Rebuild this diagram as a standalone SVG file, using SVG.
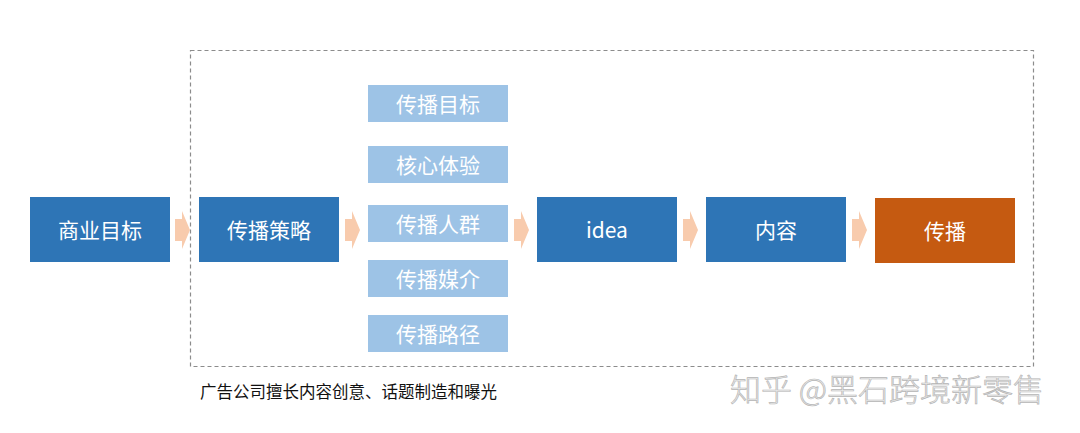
<svg xmlns="http://www.w3.org/2000/svg" width="1080" height="433" viewBox="0 0 1080 433">
<style>
.main{fill:#2e75b6}
.sub{fill:#9dc3e6}
.out{fill:#c55a11}
.t{font-family:"Noto Sans CJK SC","Liberation Sans",sans-serif;fill:#fff;text-anchor:middle;dominant-baseline:central}
.tm{font-size:21px}
.ts{font-size:21px}
.arr{fill:#f8cbad}
</style>
<defs>
<path id="ar" d="M0,-11 H7 V-19 L15,0 L7,19 V11 H0 Z"/>
</defs>
<rect width="1080" height="433" fill="#fff"/>
<rect id="frame" x="190.5" y="50.5" width="843" height="316" fill="none" stroke="#8c8c8c" stroke-width="1.2" stroke-dasharray="4,3"/>
<g id="connectors">
<use href="#ar" class="arr" x="175" y="230"/>
<use href="#ar" class="arr" x="345" y="230"/>
<use href="#ar" class="arr" x="514" y="230"/>
<use href="#ar" class="arr" x="683" y="230"/>
<use href="#ar" class="arr" x="852" y="230"/>
</g>
<g id="n1"><rect class="main" x="30" y="197" width="140" height="65"/><text class="t tm" x="100" y="229">商业目标</text></g>
<g id="n2"><rect class="main" x="199" y="197" width="140" height="65"/><text class="t tm" x="269" y="229">传播策略</text></g>
<g id="s1"><rect class="sub" x="368" y="85" width="140" height="37"/><text class="t ts" x="438" y="103">传播目标</text></g>
<g id="s2"><rect class="sub" x="368" y="146" width="140" height="37"/><text class="t ts" x="438" y="164">核心体验</text></g>
<g id="s3"><rect class="sub" x="368" y="205" width="140" height="37"/><text class="t ts" x="438" y="223">传播人群</text></g>
<g id="s4"><rect class="sub" x="368" y="260" width="140" height="37"/><text class="t ts" x="438" y="278">传播媒介</text></g>
<g id="s5"><rect class="sub" x="368" y="315" width="140" height="37"/><text class="t ts" x="438" y="333">传播路径</text></g>
<g id="n3"><rect class="main" x="537" y="197" width="140" height="65"/><text class="t tm" x="607" y="229">idea</text></g>
<g id="n4"><rect class="main" x="706" y="197" width="140" height="65"/><text class="t tm" x="776" y="229">内容</text></g>
<g id="n5"><rect class="out" x="875" y="198" width="140" height="65"/><text class="t tm" x="945" y="230">传播</text></g>
<text x="200" y="398" font-family="Noto Sans CJK SC,Liberation Sans,sans-serif" font-size="16.5" fill="#111">广告公司擅长内容创意、话题制造和曝光</text>
<text x="730" y="401" font-family="Noto Sans CJK SC,Liberation Sans,sans-serif" font-size="31" font-weight="300" fill="#ededed" stroke="#b5b5b5" stroke-width="0.7">知乎 @黑石跨境新零售</text>
</svg>
